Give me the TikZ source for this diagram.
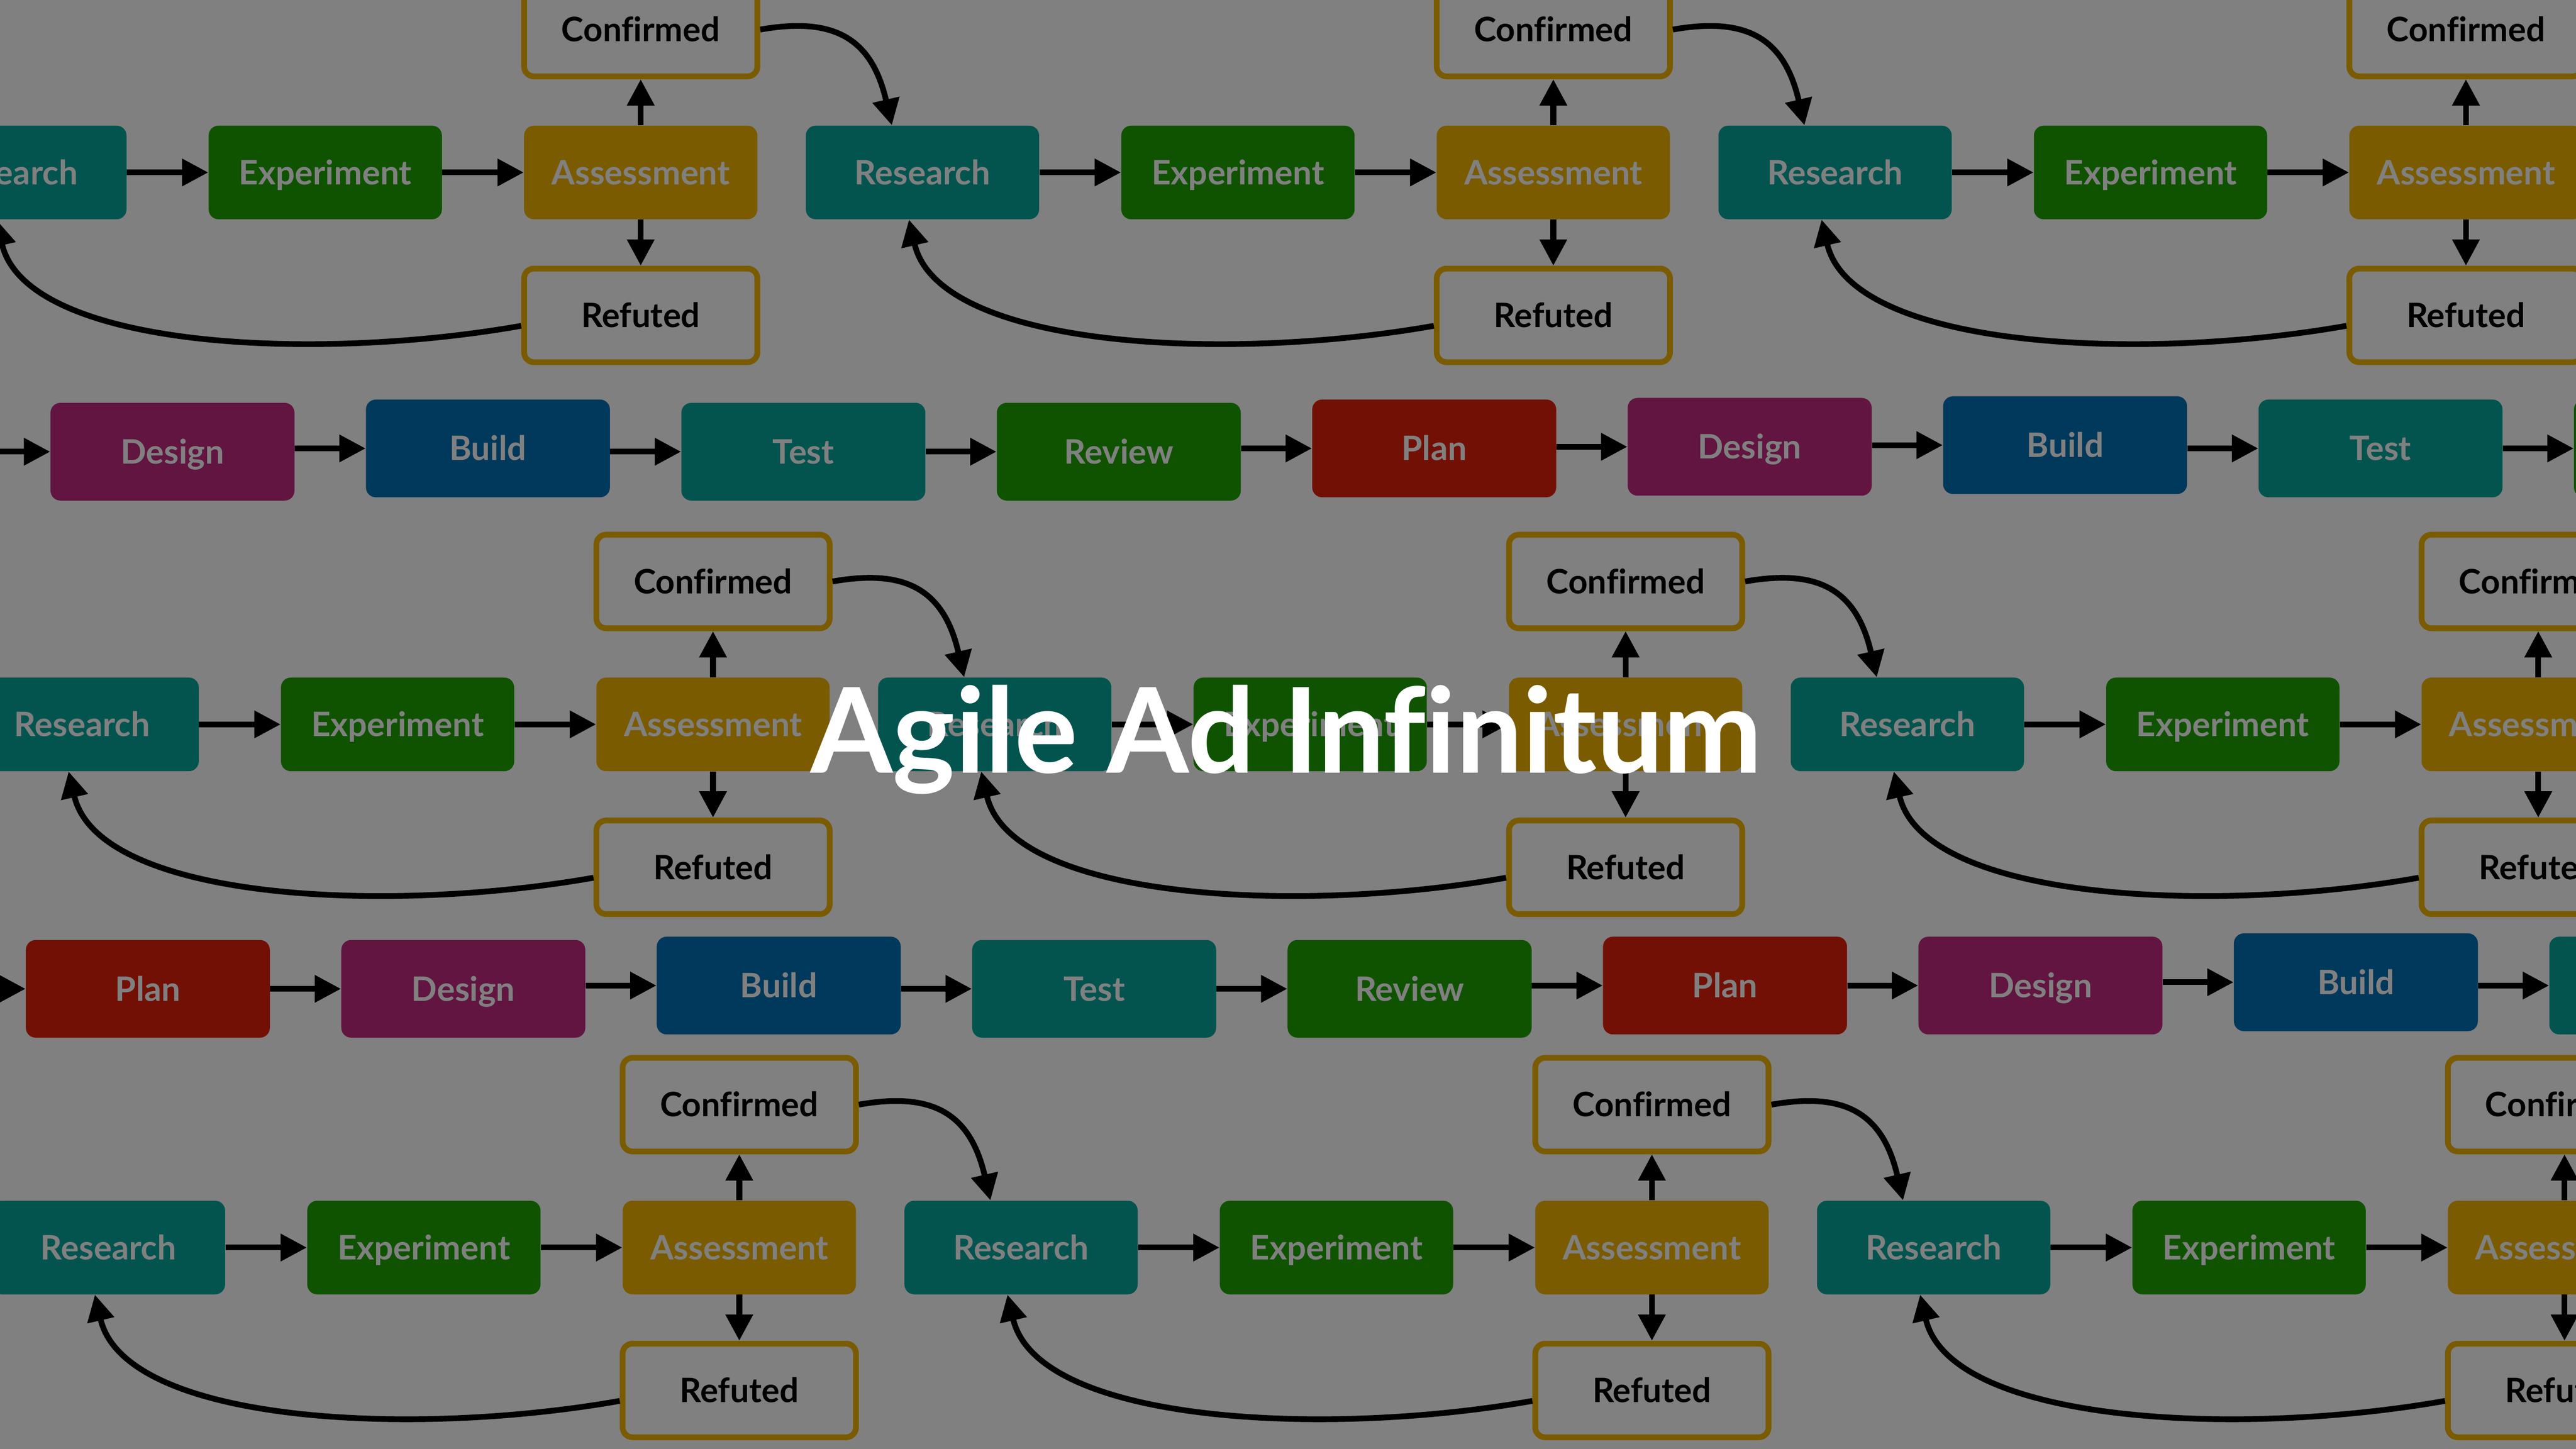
\documentclass[tikz,border=0pt]{standalone}
\usepackage{fontspec}
\setmainfont{Lato}[Ligatures=NoCommon]
\usetikzlibrary{arrows.meta}

\definecolor{bg}{HTML}{808080}
\definecolor{research}{HTML}{03544F}
\definecolor{experiment}{HTML}{0F5300}
\definecolor{assess}{HTML}{7A5B00}
\definecolor{design}{HTML}{621540}
\definecolor{build}{HTML}{00395B}
\definecolor{plan}{HTML}{731006}

\tikzset{
    box/.style={rounded corners=6pt, minimum width=142pt, minimum height=57pt, inner sep=0pt,
        text height=14.7pt, text depth=0pt, text=bg, font=\fontsize{20.5}{24}\selectfont\bfseries},
    stage/.style={box, minimum width=148.5pt, minimum height=59.5pt},
    outcome/.style={box, draw=assess, line width=3.5pt, text=black},
    arr/.style={-{Triangle[length=16pt, width=16pt]}, line width=3.5pt}
}

\begin{document}
\begin{tikzpicture}[x=1pt, y=1pt]
                        \useasboundingbox (0, 0) rectangle (1568, -882);
                        \clip (0, 0) rectangle (1568, -882);
                        \fill[bg] (0, 0) rectangle (1568, -882);

                        % research cycles
                        \foreach \row/\xo/\yo in {a/6/105, c/50/441, e/66/759.5} {
                            \foreach \k in {0, 1, 2} {
                                \pgfmathsetmacro\xr{\xo + 555.5*\k}
                                \node[box, fill=research] (\row r\k) at (\xr, -\yo) {Research};
                                \node[box, fill=experiment] (\row x\k) at (\xr + 192, -\yo) {Experiment};
                                \node[box, fill=assess] (\row a\k) at (\xr + 384, -\yo) {Assessment};
                                \node[outcome] (\row c\k) at (\xr + 384, -\yo + 87) {Confirmed};
                                \node[outcome] (\row f\k) at (\xr + 384, -\yo - 87) {Refuted};
                                \draw[arr] (\row r\k) -- (\row x\k);
                                \draw[arr] (\row x\k) -- (\row a\k);
                                \draw[arr] (\row a\k) -- (\row c\k);
                                \draw[arr] (\row a\k) -- (\row f\k);
                                \draw[arr] (\row f\k.185) .. controls +(190:130) and +(-77:80) .. (\row r\k.-106);
                            }
                            \foreach \k/\j in {0/1, 1/2}
                                \draw[arr] (\row c\k.east) .. controls +(10:45) and +(103:55) .. (\row r\j.123);
                        }

                        % delivery rows
                        \foreach \name/\col/\yy [count=\i from 0] in {Plan/plan/275, Design/design/275, Build/build/273,
                                Test/research/275, Review/experiment/275, Plan/plan/273, Design/design/272,
                                Build/build/271, Test/research/273, Review/experiment/273}
                            \node[stage, fill=\col] (b\i) at (-87 + 192*\i, -\yy) {\name};
                        \foreach \name/\col/\yy [count=\i from 0] in {Review/experiment/602, Plan/plan/602, Design/design/602,
                                Build/build/600, Test/research/602, Review/experiment/602, Plan/plan/600,
                                Design/design/600, Build/build/598, Test/research/600}
                            \node[stage, fill=\col] (d\i) at (-102 + 192*\i, -\yy) {\name};
                        \foreach \i [evaluate=\i as \j using int(\i+1)] in {0, ..., 8} {
                            \draw[arr] (b\i.east |- b\j.west) -- (b\j.west);
                            \draw[arr] (d\i.east |- d\j.west) -- (d\j.west);
                        }

                        \node[anchor=base, text=white, font=\fontsize{72}{84}\selectfont\bfseries] (title)
                            at (783, -470.4) {Agile Ad Infinitum};
                    \end{tikzpicture}
\end{document}
